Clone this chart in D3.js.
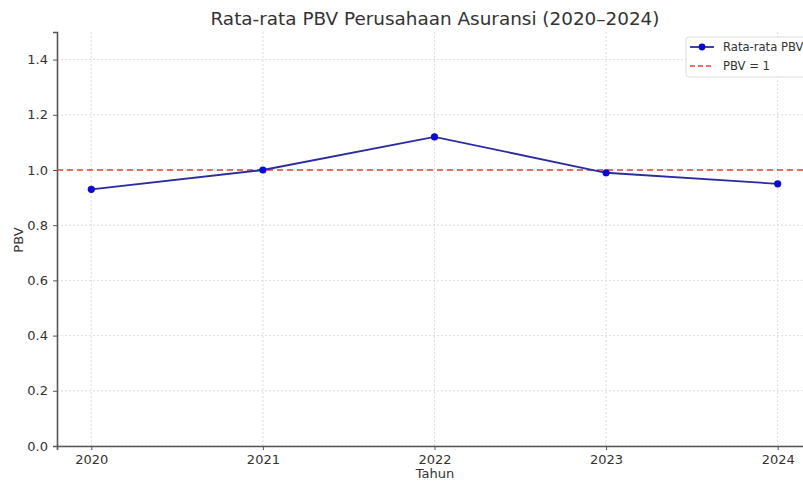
<!DOCTYPE html>
<html>
<head>
<meta charset="utf-8">
<script src="https://cdn.jsdelivr.net/npm/d3@7"></script>
<style>
  body { margin: 0; background: #fff; }
  svg { display: block; font-family: "DejaVu Sans", sans-serif; }
</style>
</head>
<body>
<svg width="803" height="482"></svg>
<script>
var years = [2020, 2021, 2022, 2023, 2024];
var pbv = [0.93, 1.00, 1.12, 0.99, 0.95];
var yTicks = [0.0, 0.2, 0.4, 0.6, 0.8, 1.0, 1.2, 1.4];
var refValue = 1;
var seriesLabel = "Rata-rata PBV";
var refLabel = "PBV = 1";

var data = years.map((y, i) => ({ year: y, value: pbv[i] }));

var svg = d3.select("svg"),
    margin = { top: 32, right: -9, bottom: 36, left: 57 },
    width = +svg.attr("width") - margin.left - margin.right,
    height = +svg.attr("height") - margin.top - margin.bottom,
    g = svg.append("g").attr("transform", "translate(" + margin.left + "," + margin.top + ")");

var x = d3.scaleLinear()
    .domain([2019.8, 2024.2])
    .range([0, width]);

var y = d3.scaleLinear()
    .domain([0, 1.5])
    .range([height, 0]);

// grid
g.append("g")
    .selectAll("line")
    .data(yTicks)
    .join("line")
    .attr("x1", 0).attr("x2", width)
    .attr("y1", d => y(d)).attr("y2", d => y(d))
    .attr("stroke", "#d4d4d4")
    .attr("stroke-dasharray", "2,2")
    .attr("stroke-width", 0.8);

g.append("g")
    .selectAll("line")
    .data(years)
    .join("line")
    .attr("x1", d => x(d)).attr("x2", d => x(d))
    .attr("y1", 0).attr("y2", height)
    .attr("stroke", "#d4d4d4")
    .attr("stroke-dasharray", "2,2")
    .attr("stroke-width", 0.8);

// axes
var xAxis = g.append("g")
    .attr("transform", "translate(0," + height + ")")
    .call(d3.axisBottom(x).tickValues(years).tickFormat(d3.format("d")).tickSize(4).tickPadding(5));

var yAxis = g.append("g")
    .call(d3.axisLeft(y).tickValues(yTicks).tickFormat(d3.format(".1f")).tickSize(4).tickPadding(5));

[xAxis, yAxis].forEach(a => {
    a.select(".domain").attr("stroke", "#555").attr("stroke-width", 1.6);
    a.selectAll(".tick line").attr("stroke", "#555");
    a.selectAll(".tick text")
        .attr("fill", "#333")
        .style("font-size", "13px")
        .style("font-family", "DejaVu Sans, sans-serif");
});

// reference line
g.append("line")
    .attr("x1", 0).attr("x2", width)
    .attr("y1", y(refValue)).attr("y2", y(refValue))
    .attr("stroke", "#e0413a")
    .attr("stroke-width", 1.6)
    .attr("stroke-dasharray", "6,4");

// series
var line = d3.line()
    .x(d => x(d.year))
    .y(d => y(d.value));

g.append("path")
    .datum(data)
    .attr("fill", "none")
    .attr("stroke", "#2b2ba0")
    .attr("stroke-width", 1.8)
    .attr("d", line);

g.append("g")
    .selectAll("circle")
    .data(data)
    .join("circle")
    .attr("cx", d => x(d.year))
    .attr("cy", d => y(d.value))
    .attr("r", 3.6)
    .attr("fill", "#0a0ad0");

// title and labels
svg.append("text")
    .attr("x", 435)
    .attr("y", 25)
    .attr("text-anchor", "middle")
    .attr("fill", "#333")
    .style("font-size", "18.4px")
    .text("Rata-rata PBV Perusahaan Asuransi (2020–2024)");

svg.append("text")
    .attr("x", 435)
    .attr("y", 478)
    .attr("text-anchor", "middle")
    .attr("fill", "#333")
    .style("font-size", "13px")
    .text("Tahun");

svg.append("text")
    .attr("transform", "translate(23,240) rotate(-90)")
    .attr("text-anchor", "middle")
    .attr("fill", "#333")
    .style("font-size", "13px")
    .text("PBV");

// legend
var legend = svg.append("g").attr("transform", "translate(686,37)");
legend.append("rect")
    .attr("width", 130).attr("height", 40)
    .attr("rx", 3)
    .attr("fill", "#fff")
    .attr("fill-opacity", 0.85)
    .attr("stroke", "#ddd");

legend.append("line")
    .attr("x1", 4).attr("x2", 28).attr("y1", 10).attr("y2", 10)
    .attr("stroke", "#2b2ba0").attr("stroke-width", 1.8);
legend.append("circle")
    .attr("cx", 16).attr("cy", 10).attr("r", 3.4)
    .attr("fill", "#0a0ad0");
legend.append("text")
    .attr("x", 37).attr("y", 14)
    .attr("fill", "#333")
    .style("font-size", "11.6px")
    .text(seriesLabel);

legend.append("line")
    .attr("x1", 4).attr("x2", 28).attr("y1", 29).attr("y2", 29)
    .attr("stroke", "#e0413a").attr("stroke-width", 1.6)
    .attr("stroke-dasharray", "5,3");
legend.append("text")
    .attr("x", 37).attr("y", 33)
    .attr("fill", "#333")
    .style("font-size", "11.6px")
    .text(refLabel);
</script>
</body>
</html>
